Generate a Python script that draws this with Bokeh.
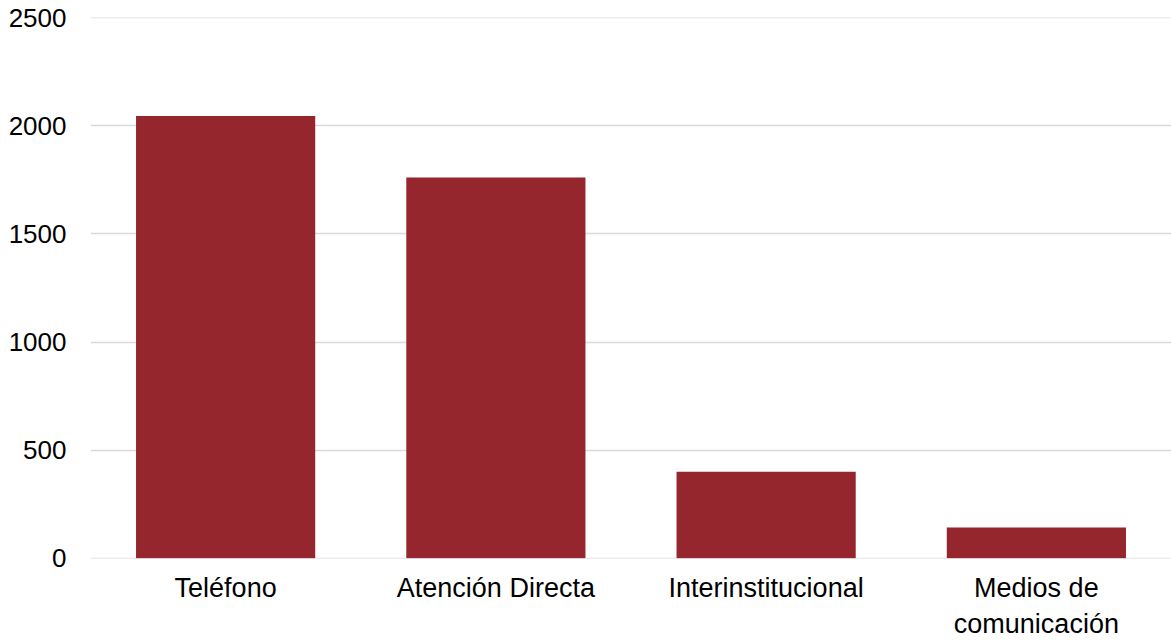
from bokeh.plotting import figure
from bokeh.models import Range1d, FactorRange, ColumnDataSource
from bokeh.embed import file_html
from bokeh.resources import INLINE

categories = ["Teléfono", "Atención Directa", "Interinstitucional", "Medios de\ncomunicación"]
values = [2045, 1761, 400, 142]
y_ticks = [0, 500, 1000, 1500, 2000, 2500]

src = ColumnDataSource(dict(cat=categories, val=values))

p = figure(x_range=FactorRange(*categories), y_range=Range1d(-1, 2501),
           width=1171, height=641, output_backend="svg", toolbar_location=None,
           min_border_left=90, min_border_right=0, min_border_top=17, min_border_bottom=20)
p.outline_line_color = None
p.background_fill_color = "white"
p.border_fill_color = "white"

p.vbar(x="cat", top="val", width=0.663, source=src, fill_color="#95262E", line_color=None)

p.xgrid.grid_line_color = None
p.ygrid.grid_line_color = "#d9d9d9"
p.ygrid.grid_line_width = 1.5
p.yaxis.ticker = y_ticks
p.yaxis.axis_line_color = None
p.yaxis.major_tick_line_color = None
p.yaxis.minor_tick_line_color = None
p.yaxis.major_label_standoff = 18
p.yaxis.major_label_text_font = "Liberation Sans"
p.yaxis.major_label_text_font_size = "26px"
p.yaxis.major_label_text_color = "#000000"

p.xaxis.axis_line_color = None
p.xaxis.major_tick_line_color = None
p.xaxis.minor_tick_line_color = None
p.xaxis.major_label_standoff = 8
p.xaxis.major_label_text_font = "Liberation Sans"
p.xaxis.major_label_text_font_size = "27px"
p.xaxis.major_label_text_color = "#000000"
p.xaxis.major_label_text_line_height = 1.2
p.x_range.range_padding = 0

open("out.html", "w").write(file_html(p, INLINE))
